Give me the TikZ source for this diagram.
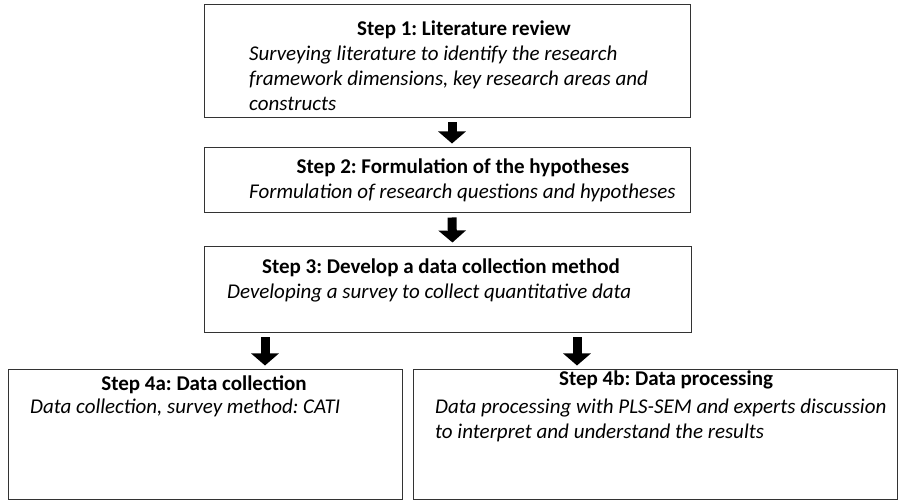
\documentclass[tikz,border=0pt]{standalone}
\usepackage{fontspec}
\setmainfont{Carlito}
\frenchspacing
\usetikzlibrary{arrows.meta}

\tikzset{
  box/.style={draw=black!80, line width=1pt, rectangle, inner sep=0pt},
  title/.style={font=\fontsize{21}{25}\selectfont\bfseries, anchor=base, inner sep=0pt},
  desc/.style={font=\fontsize{21}{25}\selectfont\itshape, anchor=base west, align=left, inner sep=0pt},
  down/.style={line width=9pt, -{Triangle[width=27pt,length=12pt]}, shorten <=4pt, shorten >=4pt}
}

\begin{document}
\begin{tikzpicture}[x=1pt,y=-1pt]
\useasboundingbox (0,0) rectangle (898,502);
% boxes
\node[box, minimum width=486pt, minimum height=113pt] (s1) at (447,61.5) {};
\node[box, minimum width=486pt, minimum height=65pt] (s2) at (447,180.5) {};
\node[box, minimum width=487pt, minimum height=86pt] (s3) at (447.5,290) {};
\node[box, minimum width=394pt, minimum height=130pt] (s4a) at (205,435) {};
\node[box, minimum width=484pt, minimum height=130pt] (s4b) at (655,435) {};
% texts (multi-line ones sit on their last line)
\node[title] (t1) at (464,36) {Step 1: Literature review};
\node[desc] (d1) at (249,111) {Surveying literature to identify the research\\framework dimensions, key research areas and\\constructs};
\node[title] (t2) at (463,174) {Step 2: Formulation of the hypotheses};
\node[desc] (d2) at (249,199) {Formulation of research questions and hypotheses};
\node[title] (t3) at (441,274) {Step 3: Develop a data collection method};
\node[desc] (d3) at (227,299) {Developing a survey to collect quantitative data};
\node[title] (t4a) at (204,391) {Step 4a: Data collection};
\node[desc] (d4a) at (30,414) {Data collection, survey method: CATI};
\node[title] (t4b) at (666,386) {Step 4b: Data processing};
\node[desc] (d4b) at (435,439) {Data processing with PLS-SEM and experts discussion\\to interpret and understand the results};
% arrows
\draw[down] ([xshift=5pt]s1.south) -- ([xshift=5pt]s2.north);
\draw[down] ([xshift=5pt]s2.south) -- ([xshift=5pt]s3.north);
\draw[down] ([xshift=60pt]s4a.north |- s3.south) -- ([xshift=60pt]s4a.north);
\draw[down] ([xshift=-78pt]s4b.north |- s3.south) -- ([xshift=-78pt]s4b.north);
\end{tikzpicture}
\end{document}
